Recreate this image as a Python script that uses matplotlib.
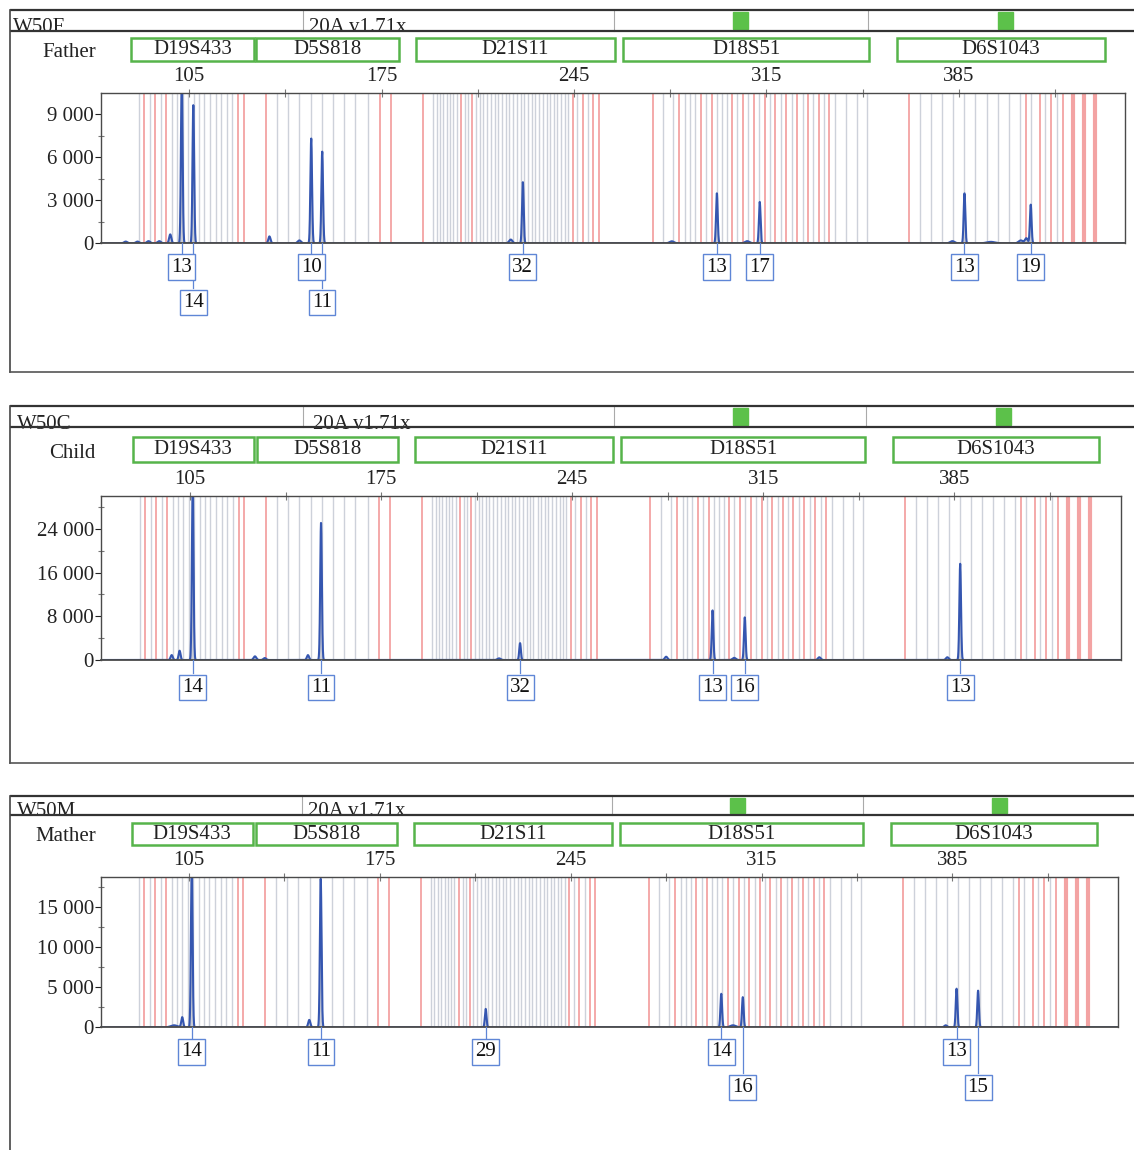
import matplotlib
matplotlib.use("Agg")
import matplotlib.pyplot as plt
import matplotlib.transforms as mtransforms
from matplotlib.patches import Rectangle
from matplotlib.ticker import FuncFormatter
import numpy as np

plt.rcParams['font.family'] = ['Liberation Serif', 'DejaVu Serif']

# loci and their size windows (bp)
loci = ["D19S433", "D5S818", "D21S11", "D18S51", "D6S1043"]
locus_ranges = [(84.0, 128.4), (129.4, 181.2), (187.5, 260.0), (263.0, 352.2), (362.4, 438.1)]

# size scale (bp)
size_major = [105, 175, 245, 315, 385]
size_minor = [140, 210, 280, 350, 420]

# allele bins (bp) - grey = ladder alleles, red = virtual bins
bins_grey = [86.7, 90.7, 94.7, 98.7, 100.6, 102.6, 104.5, 106.6, 108.5, 110.5, 112.5, 114.6, 116.6, 118.6, 120.6,
             136.8, 140.8, 145.0, 149.2, 153.2, 157.4, 161.4, 165.4, 170.1,
             193.8, 195.0, 196.2, 197.4, 198.7, 199.9, 201.1, 202.3, 205.3, 206.5, 209.3, 210.7, 212.0, 213.4,
             214.7, 216.1, 217.4, 218.8, 220.3, 221.4, 222.9, 224.1, 225.6, 226.8, 228.3, 229.6, 230.8, 232.3,
             233.6, 235.1, 236.3, 237.7, 238.9, 240.4, 241.6, 242.9, 246.2, 250.2,
             277.5, 281.1, 285.4, 287.2, 289.0, 293.0, 296.9, 298.7, 300.6, 304.4, 308.4, 312.4, 316.3, 320.2,
             324.2, 328.2, 332.1, 336.0, 340.0, 344.0, 347.9, 351.5,
             370.9, 374.9, 379.0, 383.0, 387.0, 390.9, 395.2, 399.2, 403.3, 407.3, 411.3, 416.4, 420.6]
bins_red = [88.6, 92.6, 96.6, 122.8, 124.9,
            132.8, 174.4, 178.4,
            190.0, 203.9, 207.9, 244.5, 248.2, 252.0, 254.0,
            273.6, 283.3, 291.1, 295.1, 302.6, 306.6, 310.5, 314.5, 318.2, 322.1, 326.0, 330.0, 334.1, 337.9,
            367.0, 409.4, 414.4, 418.4, 422.8]
bins_red_wide = [426.7, 430.7, 434.6]

# called peaks: allele, size bp, height RFU, label row
father_peaks = [("13", 102.3, 11500, 1), ("14", 106.5, 9620, 2),
                ("10", 149.4, 7290, 1), ("11", 153.4, 6380, 2),
                ("32", 226.4, 4260, 1),
                ("13", 297.0, 3480, 1), ("17", 312.6, 2880, 1),
                ("13", 387.1, 3480, 1), ("19", 411.2, 2690, 1)]
child_peaks = [("14", 106.0, 32000, 1), ("11", 153.0, 25150, 1),
               ("32", 225.9, 3090, 1),
               ("13", 296.4, 9090, 1), ("16", 308.2, 7820, 1),
               ("13", 387.1, 17640, 1)]
mother_peaks = [("14", 106.0, 20000, 1), ("11", 153.3, 18500, 1),
                ("29", 213.8, 2290, 1),
                ("14", 300.2, 4170, 1), ("16", 308.1, 3750, 2),
                ("13", 386.5, 4810, 1), ("15", 394.4, 4560, 2)]

# small uncalled peaks / stutter: size bp, height RFU, width
father_minor = [(81.9, 120, 0.6), (86.2, 120, 0.6), (90.2, 150, 0.6), (94.1, 150, 0.6), (98.1, 620, 0.4),
                (134.2, 480, 0.4), (145.1, 200, 0.6), (222.0, 260, 0.6), (280.6, 140, 0.8),
                (308.0, 150, 0.8), (382.7, 150, 0.8), (396.7, 100, 1.5), (407.6, 200, 0.8), (409.6, 350, 0.5)]
child_minor = [(98.3, 900, 0.4), (101.2, 1700, 0.35), (128.8, 670, 0.5), (132.4, 360, 0.5), (148.2, 900, 0.4),
               (218.2, 300, 0.6), (279.4, 600, 0.5), (304.3, 400, 0.6), (335.5, 500, 0.5), (382.4, 500, 0.5)]
mother_minor = [(99.5, 250, 1.2), (102.5, 1250, 0.35), (149.1, 920, 0.4), (304.5, 250, 1.0), (382.5, 250, 0.5)]

W, H = 1134, 1150
fig = plt.figure(figsize=(W / 100, H / 100), dpi=100)
bg = fig.add_axes([0, 0, 1, 1], zorder=0)
bg.set_xlim(0, W)
bg.set_ylim(H, 0)
bg.axis('off')

FS = 15
BLUE = '#3556b0'
LBL = '#5f86d6'
GREEN = '#56b44a'

panels = [
    dict(sample="W50F", role="Father", head=(10, 30.7), bottom=372, seps=[303.3, 614.3, 868.3],
         squares=[733, 997.7], tx=(13.3, 309.3), box_y=(37.7, 60.7),
         ax=(100.7, 92.7, 1125, 243.3), xlim=(72.8, 445.5), ymax=10480,
         yt=[0, 3000, 6000, 9000], ym=[1500, 4500, 7500], rows=(264.5, 300.3),
         peaks=father_peaks, minor=father_minor),
    dict(sample="W50C", role="Child", head=(406, 427.3), bottom=763, seps=[303.3, 614, 866],
         squares=[733, 996], tx=(16.7, 313.3), box_y=(436.7, 461.7),
         ax=(100.7, 495.7, 1121, 660), xlim=(72.3, 446.0), ymax=30100,
         yt=[0, 8000, 16000, 24000], ym=[4000, 12000, 20000, 28000], rows=(684.7, 720),
         peaks=child_peaks, minor=child_minor),
    dict(sample="W50M", role="Mather", head=(796, 815), bottom=None, seps=[301.7, 612, 863.3],
         squares=[730.4, 991.7], tx=(16.7, 308.3), box_y=(822.7, 845),
         ax=(100.7, 876.7, 1117.7, 1027.3), xlim=(72.6, 445.6), ymax=18730,
         yt=[0, 5000, 10000, 15000], ym=[2500, 7500, 12500, 17500], rows=(1049.5, 1085),
         peaks=mother_peaks, minor=mother_minor),
]


def thousands(v, pos):
    return f"{int(round(v)):,}".replace(",", " ")


for p in panels:
    ht, hb = p['head']
    # header bar
    bg.text(p['tx'][0], hb + 1.5, p['sample'], fontsize=FS, ha='left', va='baseline', color='#222', zorder=1)
    bg.text(p['tx'][1], hb + 1.5, "20A v1.71x", fontsize=FS, ha='left', va='baseline', color='#222', zorder=1)
    bg.plot([9.5, W], [ht, ht], color='#333', lw=1.6, zorder=3, solid_capstyle='butt')
    bg.plot([9.5, W], [hb, hb], color='#333', lw=1.6, zorder=3, solid_capstyle='butt')
    for sx in p['seps']:
        bg.plot([sx, sx], [ht, hb], color='#aaa', lw=0.8, zorder=2)
    for gx in p['squares']:
        bg.add_patch(Rectangle((gx, ht + 2), 15, hb - ht - 4, color='#5cc14a', zorder=2))
    # panel frame
    yb = p['bottom'] if p['bottom'] is not None else H
    bg.plot([9.5, 9.5], [ht, yb], color='#444', lw=1.2, zorder=3)
    if p['bottom'] is not None:
        bg.plot([9.5, W], [yb, yb], color='#555', lw=1.2, zorder=3)

    l, t, r, b = p['ax']
    ax = fig.add_axes([l / W, 1 - b / H, (r - l) / W, (b - t) / H], zorder=1)
    ax.set_xlim(*p['xlim'])
    ax.set_ylim(0, p['ymax'])
    blend = mtransforms.blended_transform_factory(ax.transData, bg.transData)

    # role name and locus boxes
    bg.text(96, p['box_y'][1] - 4, p['role'], fontsize=FS, ha='right', va='baseline', color='#222')
    for name, (x0, x1) in zip(loci, locus_ranges):
        ax.add_patch(Rectangle((x0, p['box_y'][0]), x1 - x0, p['box_y'][1] - p['box_y'][0],
                               transform=blend, fill=False, ec=GREEN, lw=1.8, clip_on=False))
        ax.text((x0 + x1) / 2, (p['box_y'][0] + p['box_y'][1]) / 2 + 0.5, name, transform=blend,
                fontsize=FS, ha='center', va='center', color='#222', clip_on=False)

    # bins
    for bx in bins_grey:
        ax.axvline(bx, color='#cdd1da', lw=1.0, zorder=0)
    for bx in bins_red:
        ax.axvline(bx, color='#f3a3a3', lw=1.3, zorder=0)
    for bx in bins_red_wide:
        ax.axvline(bx, color='#f3a3a3', lw=3.0, zorder=0)

    # trace
    xs = np.linspace(p['xlim'][0], p['xlim'][1], 8000)
    ys = np.zeros_like(xs)
    for lab, mu, h, row in p['peaks']:
        ys += h * np.exp(-0.5 * ((xs - mu) / 0.3) ** 2)
    for mu, h, sg in p['minor']:
        ys += h * np.exp(-0.5 * ((xs - mu) / sg) ** 2)
    ax.fill_between(xs, 0, ys, color='#c9ccd4', lw=0, zorder=1)
    ax.plot(xs, ys, color=BLUE, lw=1.5, zorder=2)

    # allele call labels
    for lab, mu, h, row in p['peaks']:
        yc = p['rows'][row - 1]
        ax.plot([mu, mu], [b, yc - 12], transform=blend, color=LBL, lw=0.9, clip_on=False, zorder=3)
        ax.text(mu, yc, lab, transform=blend, fontsize=FS, ha='center', va='center_baseline',
                color='#111', clip_on=False, zorder=5 - row,
                bbox=dict(boxstyle='square,pad=0.15', fc='white', ec=LBL, lw=1.0))

    # axes styling
    for s in ax.spines.values():
        s.set_color('#4a4a4a')
        s.set_linewidth(1.0)
    ax.spines['bottom'].set_linewidth(1.3)
    ax.xaxis.tick_top()
    ax.set_xticks(size_major)
    ax.set_xticks(size_minor, minor=True)
    ax.set_xticklabels([str(v) for v in size_major])
    ax.tick_params(axis='x', which='both', direction='inout', length=6, width=0.8, pad=2,
                   labelsize=FS, top=True, bottom=False, labeltop=True, labelbottom=False, colors='#222')
    ax.tick_params(axis='x', which='both', color='#777')
    ax.set_yticks(p['yt'])
    ax.set_yticks(p['ym'], minor=True)
    ax.yaxis.set_major_formatter(FuncFormatter(thousands))
    ax.tick_params(axis='y', which='major', direction='out', length=4.5, width=0.8, pad=0.5,
                   labelsize=FS, colors='#222')
    ax.tick_params(axis='y', which='minor', direction='inout', length=5, width=0.8, color='#777')

fig.savefig("out.png", dpi=100, facecolor='white')
